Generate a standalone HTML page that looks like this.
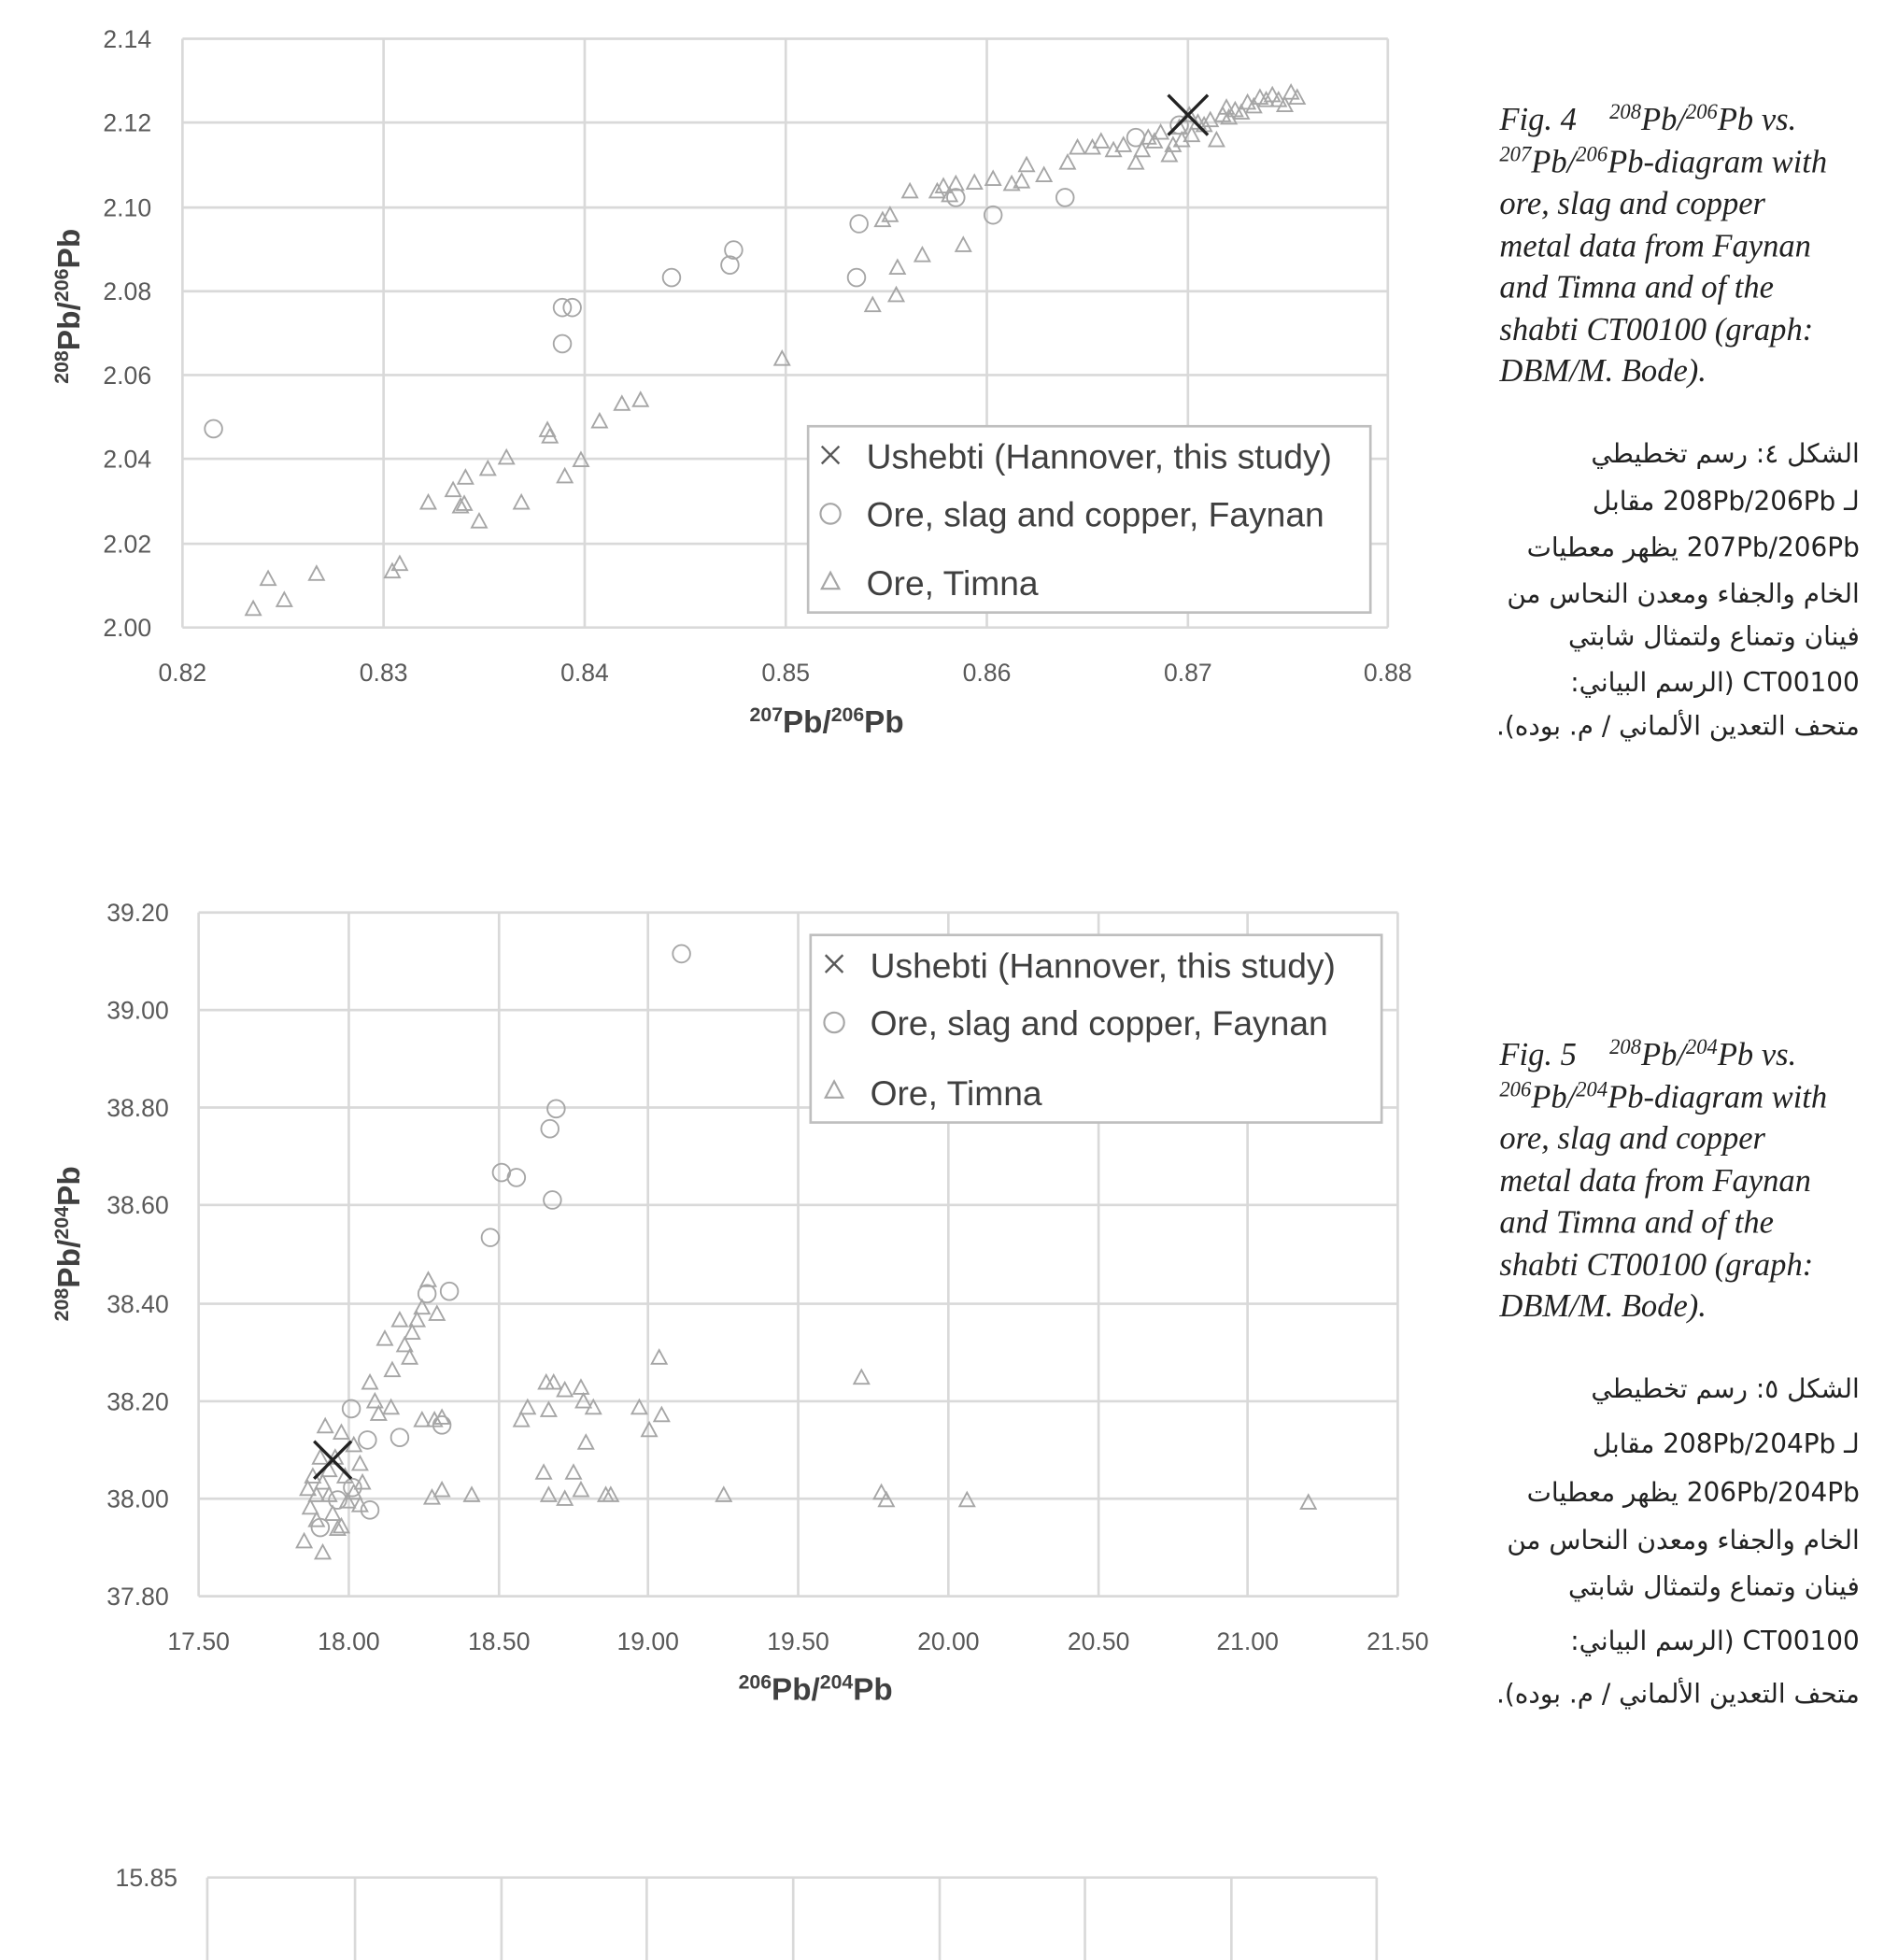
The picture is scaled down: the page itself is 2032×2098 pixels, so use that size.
<!DOCTYPE html>
<html><head><meta charset="utf-8"><style>
html,body{margin:0;padding:0;background:#fff;}
svg{display:block}
.t{font-family:"Liberation Sans",sans-serif;font-size:20px;fill:#595959}
.ax{font-family:"Liberation Sans",sans-serif;font-size:25px;font-weight:bold;fill:#404040}
.lg{font-family:"Liberation Sans",sans-serif;font-size:28px;fill:#404040}
.cap{font-family:"Liberation Serif",serif;font-style:italic;font-size:26px;fill:#222}
.ar{font-family:"DejaVu Sans","Liberation Serif",sans-serif;font-size:21px;fill:#222}
.g{stroke:#d9d9d9;stroke-width:2;fill:none}
</style></head><body>
<svg width="2032" height="2098" viewBox="0 0 1529 1568" preserveAspectRatio="none" xmlns="http://www.w3.org/2000/svg">
<!-- Chart 1 -->
<g class="g">
<path d="M147,31V502M309,31V502M471,31V502M633,31V502M795,31V502M957,31V502M1118,31V502"/>
<path d="M147,31H1118M147,98H1118M147,166H1118M147,233H1118M147,300H1118M147,367H1118M147,435H1118M147,502H1118"/>
</g>
<g class="t" text-anchor="end">
<text x="122" y="38">2.14</text><text x="122" y="105">2.12</text><text x="122" y="173">2.10</text><text x="122" y="240">2.08</text><text x="122" y="307">2.06</text><text x="122" y="374">2.04</text><text x="122" y="442">2.02</text><text x="122" y="509">2.00</text>
</g>
<g class="t" text-anchor="middle">
<text x="147" y="545">0.82</text><text x="309" y="545">0.83</text><text x="471" y="545">0.84</text><text x="633" y="545">0.85</text><text x="795" y="545">0.86</text><text x="957" y="545">0.87</text><text x="1118" y="545">0.88</text>
</g>
<text class="ax" x="666" y="586" text-anchor="middle"><tspan font-size="16" dy="-9">207</tspan><tspan dy="9">Pb/</tspan><tspan font-size="16" dy="-9">206</tspan><tspan dy="9">Pb</tspan></text>
<text class="ax" transform="translate(64,245) rotate(-90)" text-anchor="middle"><tspan font-size="16" dy="-9">208</tspan><tspan dy="9">Pb/</tspan><tspan font-size="16" dy="-9">206</tspan><tspan dy="9">Pb</tspan></text>
<g fill="none" stroke="#a6a6a6" stroke-width="1.4">
<path d="
M204,481l6,11h-12z M216,457l6,11h-12z M229,474l6,11h-12z M255,453l6,11h-12z M316,451l6,11h-12z M322,445l6,11h-12z M345,396l6,11h-12z M365,386l6,11h-12z M375,376l6,11h-12z M371,399l6,11h-12z M374,397l6,11h-12z M386,411l6,11h-12z M393,369l6,11h-12z M408,360l6,11h-12z M420,396l6,11h-12z M441,338l6,11h-12z M443,343l6,11h-12z M455,375l6,11h-12z M468,362l6,11h-12z M483,331l6,11h-12z M501,317l6,11h-12z M516,314l6,11h-12z M630,281l6,11h-12z M703,238l6,11h-12z M722,230l6,11h-12z M723,208l6,11h-12z M743,198l6,11h-12z M776,190l6,11h-12z M711,170l6,11h-12z M717,166l6,11h-12z M733,147l6,11h-12z M755,147l6,11h-12z M760,143l6,11h-12z M765,150l6,11h-12z M770,141l6,11h-12z M785,140l6,11h-12z M800,137l6,11h-12z M815,141l6,11h-12z M823,139l6,11h-12z M827,126l6,11h-12z M841,134l6,11h-12z M860,124l6,11h-12z M868,112l6,11h-12z M880,112l6,11h-12z M887,107l6,11h-12z M897,114l6,11h-12z M905,110l6,11h-12z M915,124l6,11h-12z M920,114l6,11h-12z M930,107l6,11h-12z M945,110l6,11h-12z M942,118l6,11h-12z M952,106l6,11h-12z M960,102l6,11h-12z M970,94l6,11h-12z M980,106l6,11h-12z M990,88l6,11h-12z M1000,84l6,11h-12z M1010,79l6,11h-12z M1020,74l6,11h-12z M935,100l6,11h-12z M950,96l6,11h-12z M965,92l6,11h-12z M975,90l6,11h-12z M985,86l6,11h-12z M995,82l6,11h-12z M1005,76l6,11h-12z M1015,72l6,11h-12z M1025,70l6,11h-12z M1030,74l6,11h-12z M1040,68l6,11h-12z M1045,72l6,11h-12z M925,104l6,11h-12z M958,86l6,11h-12z M988,80l6,11h-12z M1035,78l6,11h-12z"/>
<circle cx="172" cy="343" r="7"/><circle cx="453" cy="246" r="7"/><circle cx="461" cy="246" r="7"/><circle cx="453" cy="275" r="7"/><circle cx="541" cy="222" r="7"/><circle cx="588" cy="212" r="7"/><circle cx="591" cy="200" r="7"/><circle cx="692" cy="179" r="7"/><circle cx="690" cy="222" r="7"/><circle cx="800" cy="172" r="7"/><circle cx="858" cy="158" r="7"/><circle cx="770" cy="158" r="7"/><circle cx="915" cy="110" r="7"/><circle cx="950" cy="100" r="7"/>
</g>
<path d="M941,76L973,108M973,76L941,108" stroke="#222" stroke-width="2.5"/>
<rect x="651" y="341" width="453" height="149" fill="#fff" stroke="#bfbfbf" stroke-width="2"/>
<path d="M662,357l14,14M676,357l-14,14" stroke="#595959" stroke-width="1.8"/>
<circle cx="669" cy="411" r="8" fill="none" stroke="#a6a6a6" stroke-width="1.6"/>
<path d="M669,458l7,13h-14z" fill="none" stroke="#a6a6a6" stroke-width="1.6"/>
<g class="lg"><text x="698" y="375">Ushebti (Hannover, this study)</text><text x="698" y="421">Ore, slag and copper, Faynan</text><text x="698" y="476">Ore, Timna</text></g>

<!-- Chart 2 -->
<g class="g">
<path d="M160,730V1277M281,730V1277M402,730V1277M522,730V1277M643,730V1277M764,730V1277M885,730V1277M1005,730V1277M1126,730V1277"/>
<path d="M160,730H1126M160,808H1126M160,886H1126M160,964H1126M160,1043H1126M160,1121H1126M160,1199H1126M160,1277H1126"/>
</g>
<g class="t" text-anchor="end">
<text x="136" y="737">39.20</text><text x="136" y="815">39.00</text><text x="136" y="893">38.80</text><text x="136" y="971">38.60</text><text x="136" y="1050">38.40</text><text x="136" y="1128">38.20</text><text x="136" y="1206">38.00</text><text x="136" y="1284">37.80</text>
</g>
<g class="t" text-anchor="middle">
<text x="160" y="1320">17.50</text><text x="281" y="1320">18.00</text><text x="402" y="1320">18.50</text><text x="522" y="1320">19.00</text><text x="643" y="1320">19.50</text><text x="764" y="1320">20.00</text><text x="885" y="1320">20.50</text><text x="1005" y="1320">21.00</text><text x="1126" y="1320">21.50</text>
</g>
<text class="ax" x="657" y="1360" text-anchor="middle"><tspan font-size="16" dy="-9">206</tspan><tspan dy="9">Pb/</tspan><tspan font-size="16" dy="-9">204</tspan><tspan dy="9">Pb</tspan></text>
<text class="ax" transform="translate(64,995) rotate(-90)" text-anchor="middle"><tspan font-size="16" dy="-9">208</tspan><tspan dy="9">Pb/</tspan><tspan font-size="16" dy="-9">204</tspan><tspan dy="9">Pb</tspan></text>
<g fill="none" stroke="#a6a6a6" stroke-width="1.4">
<path d="
M245,1227l6,11h-12z M260,1236l6,11h-12z M272,1217l6,11h-12z M250,1200l6,11h-12z M255,1190l6,11h-12z M260,1180l6,11h-12z M265,1170l6,11h-12z M270,1160l6,11h-12z M262,1135l6,11h-12z M275,1140l6,11h-12z M285,1150l6,11h-12z M290,1165l6,11h-12z M292,1180l6,11h-12z M280,1195l6,11h-12z M268,1205l6,11h-12z M255,1210l6,11h-12z M248,1185l6,11h-12z M258,1160l6,11h-12z M252,1175l6,11h-12z M278,1175l6,11h-12z M285,1188l6,11h-12z M290,1198l6,11h-12z M265,1190l6,11h-12z M275,1215l6,11h-12z M298,1100l6,11h-12z M302,1115l6,11h-12z M305,1125l6,11h-12z M315,1120l6,11h-12z M310,1065l6,11h-12z M322,1050l6,11h-12z M326,1070l6,11h-12z M330,1080l6,11h-12z M332,1060l6,11h-12z M336,1050l6,11h-12z M340,1040l6,11h-12z M345,1018l6,11h-12z M352,1045l6,11h-12z M316,1090l6,11h-12z M340,1130l6,11h-12z M350,1130l6,11h-12z M356,1128l6,11h-12z M348,1192l6,11h-12z M356,1186l6,11h-12z M380,1190l6,11h-12z M420,1130l6,11h-12z M425,1120l6,11h-12z M440,1100l6,11h-12z M446,1100l6,11h-12z M442,1122l6,11h-12z M455,1106l6,11h-12z M468,1104l6,11h-12z M470,1115l6,11h-12z M478,1120l6,11h-12z M472,1148l6,11h-12z M438,1172l6,11h-12z M442,1190l6,11h-12z M455,1193l6,11h-12z M462,1172l6,11h-12z M468,1186l6,11h-12z M488,1190l6,11h-12z M492,1190l6,11h-12z M515,1120l6,11h-12z M523,1138l6,11h-12z M531,1080l6,11h-12z M533,1126l6,11h-12z M583,1190l6,11h-12z M694,1096l6,11h-12z M710,1188l6,11h-12z M714,1194l6,11h-12z M779,1194l6,11h-12z M1054,1196l6,11h-12z"/>
<circle cx="549" cy="763" r="7"/><circle cx="448" cy="887" r="7"/><circle cx="443" cy="903" r="7"/><circle cx="404" cy="938" r="7"/><circle cx="416" cy="942" r="7"/><circle cx="445" cy="960" r="7"/><circle cx="395" cy="990" r="7"/><circle cx="344" cy="1035" r="7"/><circle cx="362" cy="1033" r="7"/><circle cx="356" cy="1140" r="7"/><circle cx="322" cy="1150" r="7"/><circle cx="283" cy="1127" r="7"/><circle cx="296" cy="1152" r="7"/><circle cx="298" cy="1208" r="7"/><circle cx="258" cy="1222" r="7"/><circle cx="272" cy="1200" r="7"/><circle cx="284" cy="1190" r="7"/>
</g>
<path d="M253,1153L283,1183M283,1153L253,1183" stroke="#222" stroke-width="2.5"/>
<rect x="653" y="748" width="460" height="150" fill="#fff" stroke="#bfbfbf" stroke-width="2"/>
<path d="M665,764l14,14M679,764l-14,14" stroke="#595959" stroke-width="1.8"/>
<circle cx="672" cy="818" r="8" fill="none" stroke="#a6a6a6" stroke-width="1.6"/>
<path d="M672,865l7,13h-14z" fill="none" stroke="#a6a6a6" stroke-width="1.6"/>
<g class="lg"><text x="701" y="782">Ushebti (Hannover, this study)</text><text x="701" y="828">Ore, slag and copper, Faynan</text><text x="701" y="884">Ore, Timna</text></g>

<!-- Chart 3 -->
<g class="g">
<path d="M167,1502H1109M167,1502V1568M286,1502V1568M404,1502V1568M521,1502V1568M639,1502V1568M757,1502V1568M874,1502V1568M992,1502V1568M1109,1502V1568"/>
</g>
<text class="t" x="143" y="1509" text-anchor="end">15.85</text>

<!-- Captions -->
<g class="cap">
<text x="1208" y="104">Fig. 4 <tspan dx="20" font-size="17" dy="-9">208</tspan><tspan dy="9">Pb/</tspan><tspan font-size="17" dy="-9">206</tspan><tspan dy="9">Pb vs.</tspan></text>
<text x="1208" y="138"><tspan font-size="17" dy="-9">207</tspan><tspan dy="9">Pb/</tspan><tspan font-size="17" dy="-9">206</tspan><tspan dy="9">Pb-diagram with</tspan></text>
<text x="1208" y="171">ore, slag and copper</text>
<text x="1208" y="205">metal data from Faynan</text>
<text x="1208" y="238">and Timna and of the</text>
<text x="1208" y="272">shabti CT00100 (graph:</text>
<text x="1208" y="305">DBM/M. Bode).</text>
<text x="1208" y="852">Fig. 5 <tspan dx="20" font-size="17" dy="-9">208</tspan><tspan dy="9">Pb/</tspan><tspan font-size="17" dy="-9">204</tspan><tspan dy="9">Pb vs.</tspan></text>
<text x="1208" y="886"><tspan font-size="17" dy="-9">206</tspan><tspan dy="9">Pb/</tspan><tspan font-size="17" dy="-9">204</tspan><tspan dy="9">Pb-diagram with</tspan></text>
<text x="1208" y="919">ore, slag and copper</text>
<text x="1208" y="953">metal data from Faynan</text>
<text x="1208" y="986">and Timna and of the</text>
<text x="1208" y="1020">shabti CT00100 (graph:</text>
<text x="1208" y="1053">DBM/M. Bode).</text>
</g>
<g class="ar" text-anchor="start" direction="rtl">
<text x="1498" y="370">الشكل ٤:  رسم تخطيطي</text>
<text x="1498" y="408">لـ 208Pb/206Pb مقابل</text>
<text x="1498" y="445">207Pb/206Pb يظهر معطيات</text>
<text x="1498" y="482">الخام والجفاء ومعدن النحاس من</text>
<text x="1498" y="516">فينان وتمناع ولتمثال شابتي</text>
<text x="1498" y="553">CT00100 (الرسم البياني:</text>
<text x="1498" y="588">متحف التعدين الألماني / م. بوده).</text>
<text x="1498" y="1118">الشكل ٥:  رسم تخطيطي</text>
<text x="1498" y="1162">لـ 208Pb/204Pb مقابل</text>
<text x="1498" y="1201">206Pb/204Pb يظهر معطيات</text>
<text x="1498" y="1239">الخام والجفاء ومعدن النحاس من</text>
<text x="1498" y="1276">فينان وتمناع ولتمثال شابتي</text>
<text x="1498" y="1320">CT00100 (الرسم البياني:</text>
<text x="1498" y="1362">متحف التعدين الألماني / م. بوده).</text>
</g>
</svg>
</body></html>
